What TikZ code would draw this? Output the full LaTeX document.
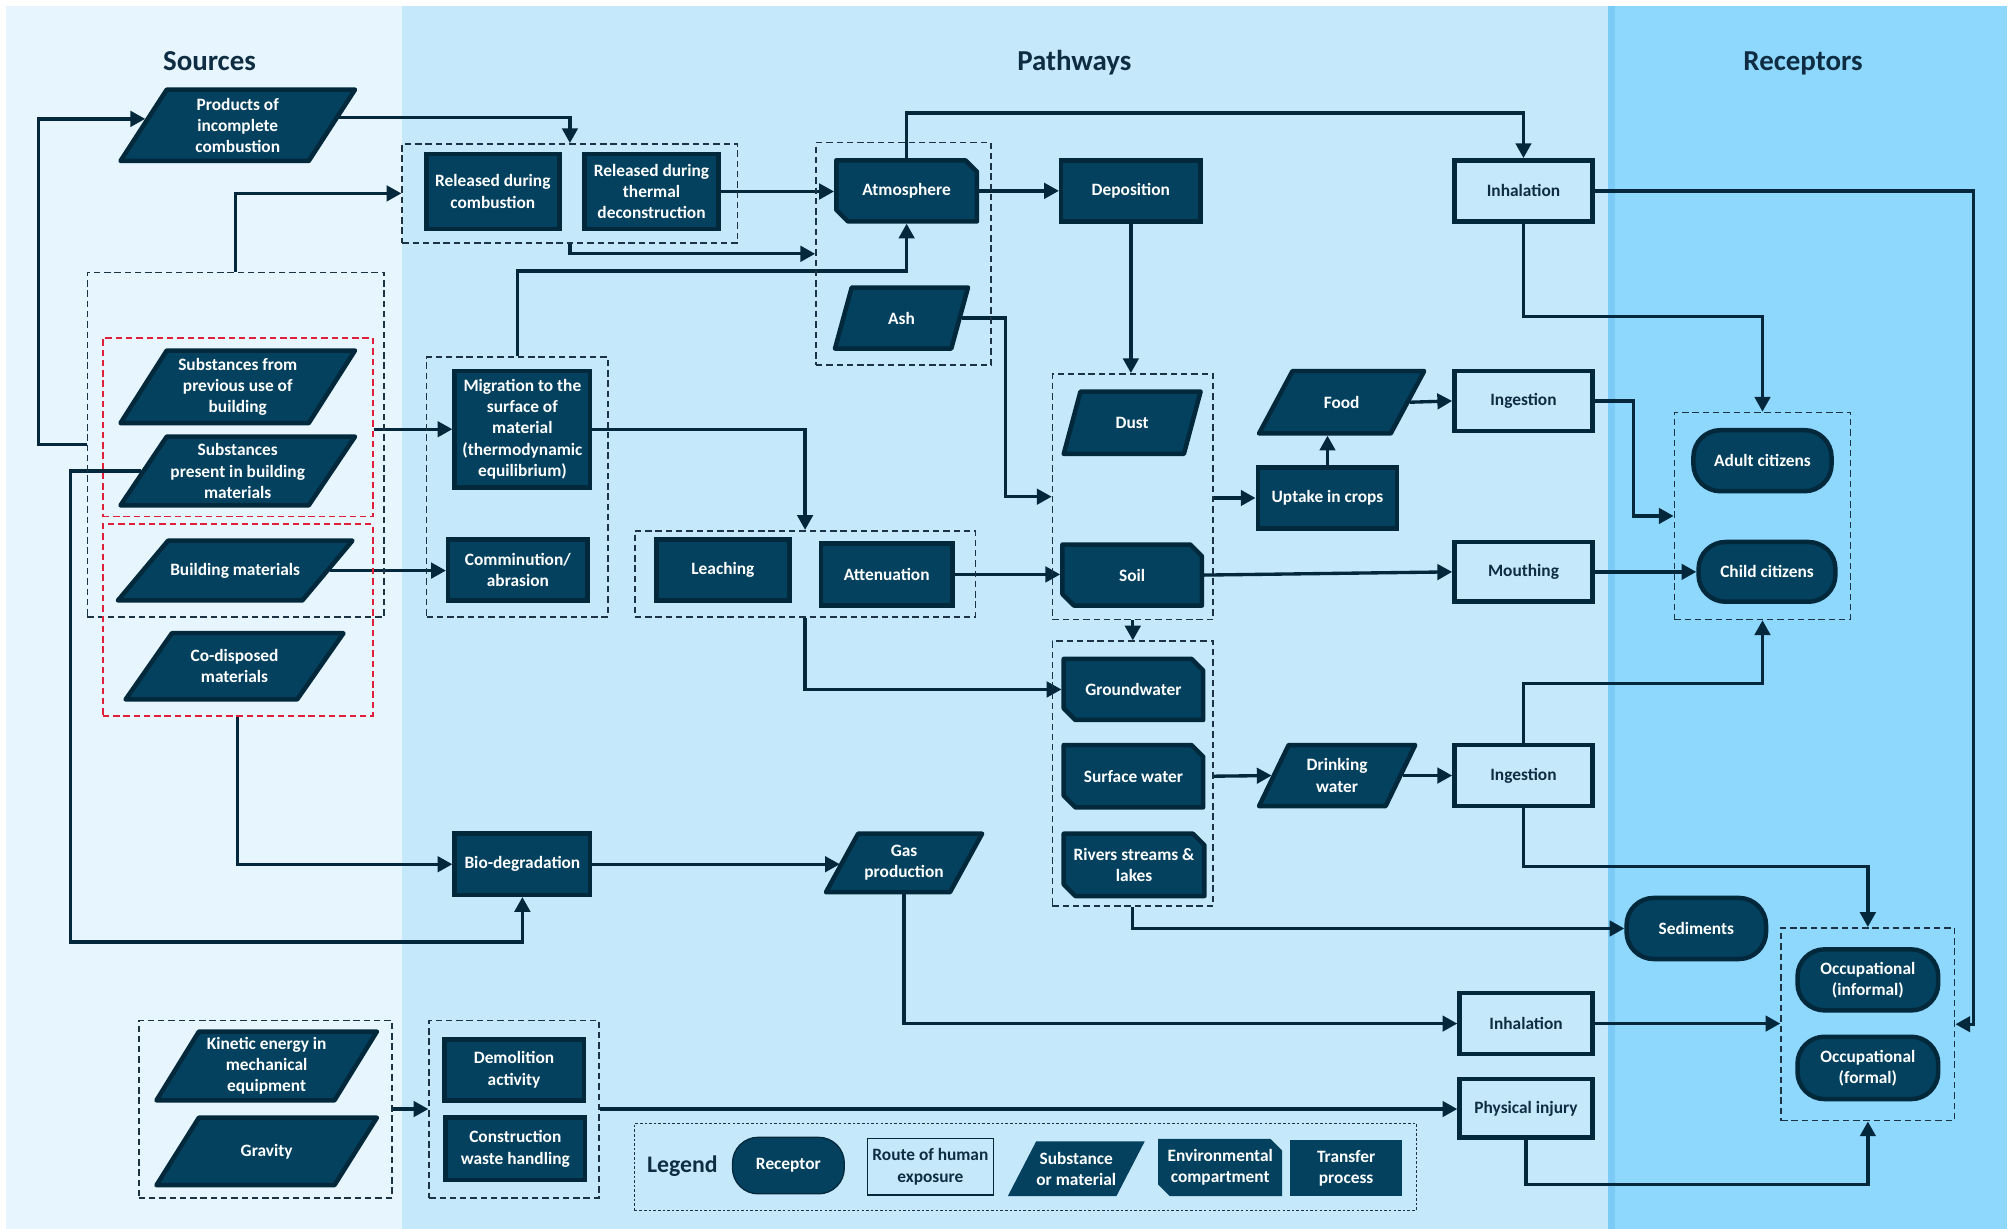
\documentclass[tikz,border=0pt]{standalone}
\usepackage{fontspec}
\setmainfont{Carlito}
\usetikzlibrary{arrows.meta}

\definecolor{srcbg}{HTML}{E6F5FE}
\definecolor{pathbg}{HTML}{C5E9FB}
\definecolor{stripe}{HTML}{7CCBF6}
\definecolor{recbg}{HTML}{8ED7FD}
\definecolor{nodefill}{HTML}{03415F}
\definecolor{nodeline}{HTML}{02293B}
\definecolor{linecol}{HTML}{03283B}
\definecolor{grpcol}{HTML}{1C3344}
\definecolor{redcol}{HTML}{E0203A}
\definecolor{titlecol}{HTML}{0F2D42}

\pgfdeclarelayer{panels}
\pgfdeclarelayer{links}
\pgfsetlayers{panels,links,main}

\newcommand{\nodefont}{\fontsize{13.5}{16.5}\selectfont\bfseries}
\def\chf{9}
\def\bw{3.5}

% substance or material: parallelogram leaning right
% [#1 extra style] #2 name, #3 centre, #4 outer width, #5 outer height, #6 slant, #7 text
\newcommand{\substance}[7][]{%
  \path[subshape,#1,shift={(#3)}]
    ({-(#4-\bw)/2+(#6)},{-(#5-\bw)/2}) -- ({(#4-\bw)/2},{-(#5-\bw)/2}) --
    ({(#4-\bw)/2-(#6)},{(#5-\bw)/2}) -- ({-(#4-\bw)/2},{(#5-\bw)/2}) -- cycle;
  \node[darktext, minimum width={((#4)-(#6))*1pt}, minimum height={(#5)*1pt}] (#2) at (#3) {#7};}

% environmental compartment: rectangle with two cut corners
% [#1 extra style] #2 name, #3 centre, #4 outer width, #5 outer height, #6 text
\newcommand{\compartment}[6][]{%
  \path[subshape,#1,shift={(#3)}]
    ({-(#4-\bw)/2},{-(#5-\bw)/2}) -- ({(#4-\bw)/2-\chf},{-(#5-\bw)/2}) --
    ({(#4-\bw)/2},{-(#5-\bw)/2+\chf}) -- ({(#4-\bw)/2},{(#5-\bw)/2}) --
    ({-(#4-\bw)/2+\chf},{(#5-\bw)/2}) -- ({-(#4-\bw)/2},{(#5-\bw)/2-\chf}) -- cycle;
  \node[darktext, minimum width={(#4)*1pt}, minimum height={(#5)*1pt}] (#2) at (#3) {#6};}

\tikzset{
  sz/.style 2 args={minimum width={#1pt-\bw pt}, minimum height={#2pt-\bw pt}},
  darktext/.style={inner sep=0pt, outer sep=0pt, align=center, text=white, font=\nodefont},
  subshape/.style={fill=nodefill, draw=nodeline, line width=\bw pt, line join=round},
  proc/.style={rectangle, fill=nodefill, draw=nodeline, line width=\bw pt, inner sep=0pt,
    align=center, text=white, font=\nodefont},
  route/.style={rectangle, fill=pathbg, draw=nodeline, line width=\bw pt, inner sep=0pt,
    align=center, text=titlecol, font=\nodefont},
  recep/.style={rectangle, rounded corners=21pt, fill=nodefill, draw=nodeline, line width=\bw pt,
    inner sep=0pt, align=center, text=white, font=\nodefont},
  grp/.style={rectangle, draw=grpcol, line width=1.3pt, dash pattern=on 5pt off 3pt, inner sep=0pt},
  redgrp/.style={grp, draw=redcol},
  legbox/.style={rectangle, draw=grpcol, line width=0.8pt, dash pattern=on 2pt off 1.6pt, inner sep=0pt},
  arr/.style={draw=linecol, line width=2.6pt, -{Triangle[length=11.5pt,width=12pt]}},
  heading/.style={font=\fontsize{22.5}{27}\selectfont\bfseries, text=titlecol, anchor=base},
}

\begin{document}
\begin{tikzpicture}[x=1pt, y=-1pt]
\useasboundingbox (0,0) rectangle (1568,956);

% column panels
\begin{pgfonlayer}{panels}
  \fill[white] (0,0) rectangle (1568,956);
  \fill[srcbg] (5,5) rectangle (313,956);
  \fill[pathbg] (313,5) rectangle (1251,956);
  \fill[stripe] (1251,5) rectangle (1257,956);
  \fill[recbg] (1257,5) rectangle (1562,956);
\end{pgfonlayer}

% headings
\node[heading] (hSrc) at (163,54.5) {Sources};
\node[heading] (hPath) at (836,54.5) {Pathways};
\node[heading] (hRec) at (1403,54.5) {Receptors};

% groups
\node[grp, minimum width=261pt, minimum height=77pt] (gRel) at (443.5,150.5) {};
\node[grp, minimum width=136pt, minimum height=173pt] (gAtm) at (703,197.5) {};
\node[grp, minimum width=231pt, minimum height=268pt] (gSrc) at (183.5,346) {};
\node[redgrp, minimum width=210pt, minimum height=139pt] (red1) at (185,332.5) {};
\node[redgrp, minimum width=210pt, minimum height=149pt] (red2) at (185,482.5) {};
\node[grp, minimum width=141pt, minimum height=202pt] (gMig) at (402.5,379) {};
\node[grp, minimum width=265pt, minimum height=67pt] (gLeach) at (626.5,446.5) {};
\node[grp, minimum width=125pt, minimum height=191pt] (gDS) at (881.5,386.5) {};
\node[grp, minimum width=125pt, minimum height=206pt] (gWat) at (881.5,602) {};
\node[grp, minimum width=137pt, minimum height=161pt] (gCit) at (1371.5,401.5) {};
\node[grp, minimum width=135pt, minimum height=150pt] (gOcc) at (1453.5,797) {};
\node[grp, minimum width=197pt, minimum height=138pt] (gKin) at (206.5,863) {};
\node[grp, minimum width=132pt, minimum height=138pt] (gDem) at (400,863) {};

% sources
\substance{pic}{185,97.5}{186}{59}{36}{Products of\\incomplete\\combustion}
\substance{prev}{185,301}{186}{60}{36}{Substances from\\previous use of\\building}
\substance{pres}{185,366.5}{186}{57}{36}{Substances\\present in building\\materials}
\substance{bm}{183,444}{186}{50}{39}{Building materials}
\substance{codis}{182.5,518.5}{173}{55}{36}{Co-disposed\\materials}
\substance{kin}{207.5,829.5}{175}{57}{33}{Kinetic energy in\\mechanical\\equipment}
\substance{grav}{207.5,896}{175}{56}{33}{Gravity}

% transfer processes
\node[proc, sz={107}{62}] (relc) at (383.5,149) {Released during\\combustion};
\node[proc, sz={108}{62}] (relt) at (507,149) {Released during\\thermal\\deconstruction};
\node[proc, sz={112}{51}] (depo) at (880,148.5) {Deposition};
\node[proc, sz={109}{94}] (migr) at (406.5,334) {Migration to the\\surface of\\material\\(thermodynamic\\equilibrium)};
\node[proc, sz={112}{51}] (comm) at (403,443.5) {Comminution/\\abrasion};
\node[proc, sz={107}{51}] (leach) at (562.5,443.5) {Leaching};
\node[proc, sz={106}{52}] (atten) at (690,447) {Attenuation};
\node[proc, sz={112}{51}] (uptake) at (1033,387.5) {Uptake in crops};
\node[proc, sz={109}{51}] (biod) at (406.5,672.5) {Bio-degradation};
\node[proc, sz={112}{51}] (demo) at (400,832.5) {Demolition\\activity};
\node[proc, sz={112}{52}] (cwh) at (401,894) {Construction\\waste handling};

% environmental compartments
\compartment{atmo}{705.5,148.5}{113}{51}{Atmosphere}
\compartment{soil}{881,447.5}{112}{51}{Soil}
\compartment{gw}{882,536.5}{112}{51}{Groundwater}
\compartment{sw}{882,604}{112}{52}{Surface water}
\compartment{rivers}{882.5,673}{113}{52}{Rivers streams \&\\lakes}

% substances along the pathways
\substance{ash}{701.5,247.5}{107}{51}{13}{Ash}
\substance{dust}{881,329}{110}{52}{13}{Dust}
\substance{food}{1044,313}{132}{52}{26}{Food}
\substance{drink}{1040.5,603.5}{125}{51}{23}{Drinking\\water}
\substance{gas}{703.5,671.5}{125}{49}{25}{Gas\\production}

% routes of human exposure
\node[route, sz={111}{51}] (inh1) at (1185.5,148.5) {Inhalation};
\node[route, sz={111}{50}] (ing1) at (1185.5,312) {Ingestion};
\node[route, sz={111}{50}] (mouth) at (1185.5,445) {Mouthing};
\node[route, sz={111}{51}] (ing2) at (1185.5,603.5) {Ingestion};
\node[route, sz={107}{51}] (inh2) at (1187.5,796.5) {Inhalation};
\node[route, sz={107}{49}] (phys) at (1187.5,862.5) {Physical injury};

% receptors
\node[recep, sz={111}{51}] (adult) at (1371.5,358.5) {Adult citizens};
\node[recep, sz={110}{50}] (child) at (1375,445) {Child citizens};
\node[recep, sz={112}{51}] (sed) at (1320,722.5) {Sediments};
\node[recep, sz={113}{51}] (occi) at (1453.5,762.5) {Occupational\\(informal)};
\node[recep, sz={113}{52}] (occf) at (1453.5,831) {Occupational\\(formal)};

% legend
\node[legbox, minimum width=608pt, minimum height=68pt] (legend) at (798,908) {};
\node[heading, font=\fontsize{18.5}{22}\selectfont\bfseries] (lgTitle) at (531,912) {Legend};
\node[recep, rounded corners=20pt, line width=1pt, minimum width=87pt, minimum height=44pt] (lgRec) at (613.5,907) {Receptor};
\node[route, line width=1pt, minimum width=98pt, minimum height=44pt] (lgRoute) at (724,908) {Route of human\\exposure};
\substance[draw=none]{lgSub}{837.5,909.5}{110}{46}{22}{Substance\\or material}
\compartment[draw=none]{lgEnv}{949.5,908.5}{100}{48}{Environmental\\compartment}
\node[proc, draw=none, minimum width=87pt, minimum height=44pt] (lgProc) at (1047.5,909) {Transfer\\process};

% connectors
\coordinate (loopTL) at (30,346);
\coordinate (loopBL) at (55,733);
\begin{pgfonlayer}{links}
  \draw[arr] (gSrc.west) -- (loopTL) |- ([xshift=3pt,yshift=5pt]pic.west);
  \draw[arr] ([yshift=6pt]pic.east) -| (gRel.north);
  \draw[arr] (gSrc.north) |- (gRel.west);
  \draw[arr] (relt.east) -- (relt.east -| atmo.west);
  \draw[arr] (gRel.south) |- (gAtm.west);
  \draw[arr] (gMig.north) |- ([yshift=-37pt]atmo.south) -- (atmo.south);
  \draw[arr] (ash.east) -| ([xshift=-36pt]gDS.west) -- (gDS.west);
  \draw[arr] (depo.south) -- (depo.south |- gDS.north);
  \draw[arr] (atmo.north) |- ([yshift=35pt]inh1.north) -- (inh1.north);
  \draw[arr] (atmo.east) -- (atmo.east -| depo.west);
  \draw[arr] (migr.east) -| (gLeach.north);
  \draw[arr] (red1.east |- migr.west) -- (migr.west);
  \draw[arr] (bm.east) -- (bm.east -| comm.west);
  \draw[arr] (pres.west) -| (loopBL) -| (biod.south);
  \draw[arr] (red2.south) |- (biod.west);
  \draw[arr] (biod.east) -- (biod.east -| gas.west);
  \draw[arr] (gas.south) |- (inh2.west);
  \draw[arr] (atten.east) -- (atten.east -| soil.west);
  \draw[arr] (gLeach.south) |- (gw.west);
  \draw[arr] (gDS.south) -- (gWat.north);
  \draw[arr] (gDS.east |- uptake.west) -- (uptake.west);
  \draw[arr] (uptake.north) -- (uptake.north |- food.south);
  \draw[arr] (food.east) -- (ing1.west);
  \draw[arr] (soil.east) -- (mouth.west);
  \draw[arr] (gWat.east |- sw.east) -- (drink.west);
  \draw[arr] (drink.east) -- (drink.east -| ing2.west);
  \draw[arr] (ing2.north) |- ([yshift=-49pt]gCit.south) -- (gCit.south);
  \draw[arr] (ing2.south) |- ([yshift=47pt]gOcc.north) -- (gOcc.north);
  \draw[arr] (gWat.south) |- (sed.west);
  \draw[arr] (inh1.east) -| ([xshift=14pt]gOcc.east) -- (gOcc.east);
  \draw[arr] (inh1.south) |- ([yshift=74pt]gCit.north) -- (gCit.north);
  \draw[arr] (ing1.east) -| ([xshift=-31pt]gCit.west) -- (gCit.west);
  \draw[arr] (mouth.east) -- (mouth.east -| child.west);
  \draw[arr] (inh2.east) -- (inh2.east -| gOcc.west);
  \draw[arr] (phys.south) |- ([yshift=-49pt]gOcc.south) -- (gOcc.south);
  \draw[arr] (gKin.east) -- (gDem.west);
  \draw[arr] (gDem.east) -- (gDem.east -| phys.west);
\end{pgfonlayer}
\end{tikzpicture}
\end{document}
